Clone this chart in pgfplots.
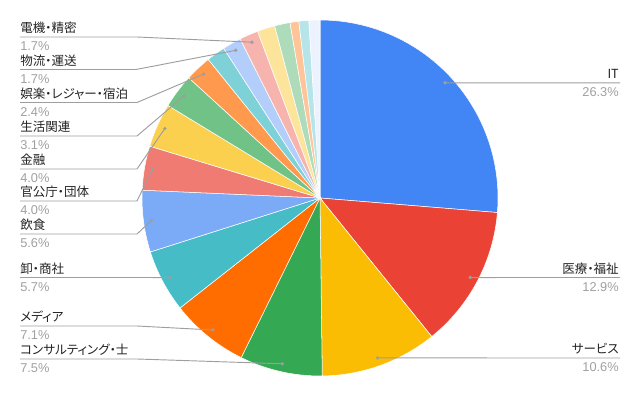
\documentclass[border=0pt]{standalone}
\usepackage{fontspec}
\setmainfont{Liberation Sans}
\newfontfamily\jp[RawFeature=+palt]{Noto Sans CJK JP}
\usepackage{pgfplots}
\usepackage{pgfplotstable}
\pgfplotsset{compat=1.18}
\definecolor{c1}{HTML}{4285F4}
\definecolor{c2}{HTML}{EA4335}
\definecolor{c3}{HTML}{FBBC04}
\definecolor{c4}{HTML}{34A853}
\definecolor{c5}{HTML}{FF6D01}
\definecolor{c6}{HTML}{46BDC6}
\definecolor{c7}{HTML}{7BAAF7}
\definecolor{c8}{HTML}{F07B72}
\definecolor{c9}{HTML}{FCD04F}
\definecolor{c10}{HTML}{71C287}
\definecolor{c11}{HTML}{FF994D}
\definecolor{c12}{HTML}{7ED1D7}
\definecolor{c13}{HTML}{B3CEFB}
\definecolor{c14}{HTML}{F7B4AE}
\definecolor{c15}{HTML}{FDE49B}
\definecolor{c16}{HTML}{AEDCBA}
\definecolor{c17}{HTML}{FFC599}
\definecolor{c18}{HTML}{B5E5E8}
\definecolor{c19}{HTML}{ECF3FE}
\definecolor{namec}{HTML}{222222}
\definecolor{pctc}{HTML}{A0A0A0}
\definecolor{linec}{HTML}{9E9E9E}

\pgfplotstableread{
val col
26.3 c1
12.9 c2
10.6 c3
7.5 c4
7.1 c5
5.7 c6
5.6 c7
4.0 c8
4.0 c9
3.1 c10
2.4 c11
1.7 c12
1.7 c13
1.7 c14
1.6 c15
1.4 c16
0.8 c17
0.9 c18
1.0 c19
}\piedata

\newcommand\lname[3]{\node[anchor=base west,inner sep=0pt,text=namec,font=\jp\fontsize{9.4}{11}\selectfont] at (axis cs:#1,#2) {#3};}
\newcommand\lpct[3]{\node[anchor=base west,inner sep=0pt,text=pctc,font=\fontsize{9.6}{11}\selectfont] at (axis cs:#1,#2) {#3};}
\newcommand\rname[3]{\node[anchor=base east,inner sep=0pt,text=namec,font=\jp\fontsize{9.4}{11}\selectfont] at (axis cs:#1,#2) {#3};}
\newcommand\rpct[3]{\node[anchor=base east,inner sep=0pt,text=pctc,font=\fontsize{9.6}{11}\selectfont] at (axis cs:#1,#2) {#3};}

\begin{document}
\begin{tikzpicture}
\begin{axis}[width=480pt,height=297pt,scale only axis,
  xmin=0,xmax=640,ymin=0,ymax=396,hide axis,clip=false]
\path (axis cs:0,0) rectangle (axis cs:640,396);
\def\cum{0}
\pgfplotsforeachungrouped \i in {0,...,18}{%
  \pgfplotstablegetelem{\i}{val}\of\piedata \let\v=\pgfplotsretval
  \pgfplotstablegetelem{\i}{col}\of\piedata \let\cl=\pgfplotsretval
  \pgfmathsetmacro\aone{90-3.6*\cum}%
  \pgfmathsetmacro\cumnew{\cum+\v}%
  \pgfmathsetmacro\atwo{90-3.6*\cumnew}%
  \pgfmathsetmacro\amid{(\aone+\atwo)/2}%
  \edef\temp{\noexpand\fill[\cl, draw=white, line width=0.4pt] (axis cs:320,198) -- ++(\aone:133.5pt) arc[start angle=\aone, end angle=\atwo, radius=133.5pt] -- cycle;
    \noexpand\path (axis cs:320,198) ++(\amid:127.5pt) coordinate (d\i);}%
  \temp
  \let\cum=\cumnew
}
% leader lines
\begin{scope}[linec, line width=0.7pt]
\draw (axis cs:20,359) -- (axis cs:137,359) -- (d13);
\draw (axis cs:20,326.5) -- (axis cs:136,326.5) -- (d12);
\draw (axis cs:20,293.5) -- (axis cs:137,293.5) -- (d10);
\draw (axis cs:20,260) -- (axis cs:137,260) -- (d9);
\draw (axis cs:20,227) -- (axis cs:137,227) -- (d8);
\draw (axis cs:20,195) -- (axis cs:137,195) -- (d7);
\draw (axis cs:20,162) -- (axis cs:137,162) -- (d6);
\draw (axis cs:20,118.5) -- (d5);
\draw (axis cs:20,70) -- (axis cs:137,70) -- (d4);
\draw (axis cs:20,37) -- (axis cs:137,37) -- (d3);
\draw (d0) -- (axis cs:620,313.2);
\draw (d1) -- (axis cs:620,118.5);
\draw (d2) -- (axis cs:620,38);
\end{scope}
\pgfplotsinvokeforeach{0,1,2,3,4,5,6,7,8,9,10,12,13}{\fill[linec] (d#1) circle (1.4pt);}
% labels left
\lname{20}{363}{電機・精密}\lpct{20}{345}{1.7\%}
\lname{20}{330.5}{物流・運送}\lpct{20}{312.5}{1.7\%}
\lname{20}{297.5}{娯楽・レジャー・宿泊}\lpct{20}{279.5}{2.4\%}
\lname{20}{264}{生活関連}\lpct{20}{246}{3.1\%}
\lname{20}{231}{金融}\lpct{20}{213}{4.0\%}
\lname{20}{199}{官公庁・団体}\lpct{20}{181}{4.0\%}
\lname{20}{166}{飲食}\lpct{20}{148}{5.6\%}
\lname{20}{122.5}{卸・商社}\lpct{20}{104.5}{5.7\%}
\lname{20}{74}{メディア}\lpct{20}{56}{7.1\%}
\lname{20}{41}{コンサルティング・士}\lpct{20}{23}{7.5\%}
% labels right
\rname{619}{317.2}{IT}\rpct{619}{299.2}{26.3\%}
\rname{619}{122.5}{医療・福祉}\rpct{619}{104.5}{12.9\%}
\rname{619}{42}{サービス}\rpct{619}{24}{10.6\%}
\end{axis}
\end{tikzpicture}
\end{document}
